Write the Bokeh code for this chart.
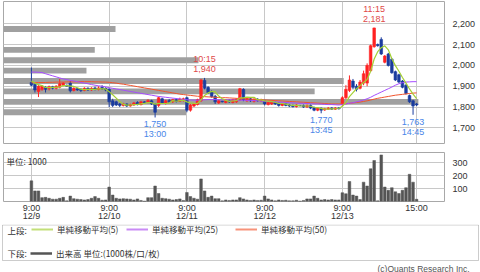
from bokeh.plotting import figure
from bokeh.models import (Range1d, FixedTicker, NumeralTickFormatter, Label, Legend,
                          LegendItem, ColumnDataSource, BoxAnnotation)
from bokeh.embed import file_html
from bokeh.resources import INLINE
from bokeh.core.properties import value

# ---------------- data ----------------
dates = ["12/9", "12/10", "12/11", "12/12", "12/13"]
times = ["9:00", "9:15", "9:30", "9:45", "10:00", "10:15", "10:30", "10:45", "11:00", "11:15",
         "11:30", "12:30", "12:45", "13:00", "13:15", "13:30", "13:45", "14:00", "14:15",
         "14:30", "14:45", "15:00"]

opens = [1918, 1910, 1875, 1885, 1895, 1888, 1898, 1890, 1895, 1905, 1905, 1915, 1880, 1888, 1885, 1880, 1890, 1882, 1892, 1884, 1895, 1890,
         1885, 1830, 1825, 1815, 1808, 1815, 1805, 1810, 1822, 1812, 1825, 1822, 1830, 1815, 1808, 1840, 1818, 1832, 1825, 1835, 1828, 1832,
         1845, 1785, 1805, 1812, 1830, 1928, 1895, 1872, 1852, 1820, 1828, 1822, 1832, 1822, 1825, 1835, 1885, 1830, 1840, 1828, 1838, 1830,
         1830, 1812, 1815, 1822, 1818, 1808, 1815, 1810, 1808, 1802, 1808, 1808, 1800, 1808, 1798, 1785, 1795, 1786, 1790, 1796, 1790, 1796,
         1812, 1845, 1880, 1925, 1900, 1890, 1915, 1915, 1975, 2090, 2100, 2125, 2015, 2055, 2030, 1970, 1955, 1925, 1905, 1855, 1830, 1815]
highs = [1990, 1915, 1905, 1905, 1900, 1903, 1902, 1905, 1935, 1920, 1908, 1925, 1895, 1892, 1890, 1895, 1895, 1895, 1898, 1900, 1905, 1895,
         1890, 1840, 1830, 1820, 1820, 1818, 1816, 1825, 1828, 1830, 1828, 1838, 1835, 1818, 1850, 1845, 1835, 1838, 1840, 1842, 1845, 1845,
         1850, 1815, 1820, 1840, 1935, 1940, 1900, 1880, 1858, 1835, 1830, 1838, 1836, 1840, 1842, 1892, 1890, 1846, 1845, 1842, 1842, 1840,
         1835, 1828, 1830, 1826, 1822, 1820, 1818, 1814, 1812, 1814, 1810, 1812, 1812, 1812, 1802, 1800, 1798, 1796, 1800, 1800, 1800, 1800,
         1852, 1905, 1952, 1935, 1910, 1930, 1975, 2010, 2100, 2181, 2105, 2135, 2050, 2060, 2035, 1975, 1960, 1930, 1910, 1860, 1835, 1820]
lows = [1900, 1870, 1848, 1878, 1870, 1880, 1885, 1885, 1890, 1900, 1898, 1870, 1875, 1878, 1872, 1876, 1878, 1878, 1880, 1880, 1882, 1876,
        1800, 1800, 1805, 1800, 1803, 1800, 1802, 1806, 1808, 1808, 1820, 1818, 1810, 1750, 1800, 1815, 1812, 1820, 1820, 1822, 1825, 1826,
        1775, 1778, 1800, 1808, 1825, 1885, 1862, 1845, 1815, 1815, 1822, 1818, 1820, 1818, 1820, 1830, 1828, 1825, 1825, 1822, 1826, 1826,
        1808, 1808, 1810, 1810, 1802, 1804, 1804, 1800, 1798, 1798, 1804, 1796, 1796, 1790, 1780, 1780, 1770, 1782, 1786, 1786, 1786, 1788,
        1805, 1838, 1872, 1885, 1875, 1885, 1905, 1900, 1970, 2085, 2090, 2050, 2010, 1995, 1960, 1925, 1915, 1890, 1860, 1820, 1763, 1805]
closes = [1905, 1882, 1900, 1900, 1885, 1898, 1890, 1900, 1912, 1915, 1900, 1878, 1890, 1882, 1880, 1890, 1882, 1890, 1885, 1892, 1888, 1882,
          1825, 1808, 1810, 1808, 1815, 1805, 1812, 1820, 1812, 1825, 1822, 1832, 1815, 1775, 1845, 1820, 1830, 1825, 1835, 1828, 1838, 1840,
          1785, 1810, 1815, 1835, 1930, 1890, 1870, 1850, 1825, 1830, 1825, 1832, 1825, 1835, 1838, 1888, 1835, 1842, 1830, 1838, 1830, 1836,
          1815, 1822, 1825, 1815, 1808, 1815, 1808, 1805, 1802, 1810, 1806, 1800, 1808, 1795, 1785, 1795, 1785, 1792, 1795, 1790, 1796, 1792,
          1845, 1885, 1930, 1895, 1885, 1920, 1960, 2000, 2095, 2180, 2095, 2055, 2045, 2000, 1965, 1930, 1920, 1895, 1865, 1825, 1805, 1810]

ma5 = [1925, 1915, 1908, 1903, 1894, 1893, 1895, 1895, 1897, 1903, 1903, 1901, 1899, 1893, 1886, 1884, 1885, 1885, 1885, 1888, 1887, 1887,
       1874, 1859, 1843, 1827, 1813, 1809, 1810, 1812, 1813, 1815, 1818, 1822, 1821, 1814, 1818, 1817, 1817, 1819, 1831, 1828, 1831, 1833,
       1825, 1820, 1818, 1817, 1835, 1856, 1868, 1875, 1873, 1853, 1840, 1832, 1827, 1829, 1831, 1844, 1844, 1848, 1847, 1847, 1835, 1835,
       1830, 1828, 1826, 1823, 1817, 1817, 1814, 1810, 1808, 1808, 1806, 1805, 1805, 1804, 1799, 1797, 1794, 1790, 1790, 1791, 1792, 1793,
       1804, 1822, 1850, 1869, 1888, 1903, 1918, 1932, 1972, 2031, 2066, 2085, 2094, 2075, 2032, 1999, 1972, 1942, 1915, 1887, 1862, 1840]
ma25 = [1968, 1968, 1967, 1966, 1960, 1955, 1950, 1945, 1940, 1935, 1932, 1928, 1925, 1922, 1918, 1915, 1912, 1908, 1905, 1902, 1900, 1897,
        1893, 1890, 1887, 1884, 1881, 1878, 1875, 1872, 1869, 1866, 1863, 1860, 1857, 1854, 1851, 1849, 1847, 1845, 1843, 1841, 1839, 1837,
        1835, 1834, 1833, 1833, 1834, 1835, 1836, 1836, 1836, 1835, 1835, 1834, 1834, 1834, 1833, 1833, 1833, 1832, 1832, 1831, 1830, 1829,
        1828, 1827, 1826, 1825, 1824, 1823, 1822, 1821, 1820, 1819, 1818, 1818, 1817, 1816, 1815, 1815, 1814, 1813, 1812, 1812, 1811, 1810,
        1812, 1815, 1818, 1821, 1825, 1829, 1834, 1840, 1847, 1856, 1864, 1872, 1880, 1888, 1896, 1905, 1912, 1917, 1920, 1921, 1922, 1922]
ma50 = [1917, 1917, 1918, 1918, 1918, 1919, 1919, 1920, 1920, 1920, 1921, 1921, 1921, 1921, 1922, 1922, 1922, 1922, 1921, 1921, 1920, 1920,
        1919, 1917, 1915, 1912, 1910, 1907, 1904, 1901, 1898, 1895, 1892, 1889, 1886, 1883, 1880, 1877, 1874, 1871, 1868, 1865, 1862, 1860,
        1858, 1856, 1854, 1852, 1851, 1850, 1849, 1848, 1847, 1846, 1845, 1845, 1844, 1843, 1842, 1841, 1840, 1839, 1838, 1837, 1836, 1835,
        1834, 1833, 1832, 1831, 1830, 1829, 1828, 1827, 1826, 1825, 1824, 1823, 1822, 1821, 1820, 1819, 1818, 1817, 1816, 1815, 1815, 1815,
        1815, 1816, 1818, 1820, 1822, 1824, 1827, 1830, 1834, 1838, 1842, 1845, 1848, 1851, 1854, 1857, 1859, 1861, 1863, 1865, 1867, 1868]

volumes = [160, 82, 82, 30, 32, 25, 18, 18, 25, 32, 5, 42, 22, 18, 15, 12, 15, 25, 38, 25, 10, 12,
           112, 50, 25, 20, 22, 20, 18, 12, 20, 8, 3, 30, 30, 120, 62, 25, 22, 18, 12, 15, 20, 8,
           70, 38, 25, 18, 175, 82, 32, 42, 22, 22, 5, 12, 8, 12, 12, 30, 20, 12, 8, 12, 8, 10,
           42, 20, 12, 5, 12, 8, 10, 5, 5, 10, 3, 8, 20, 20, 42, 25, 12, 15, 12, 15, 12, 12,
           68, 60, 155, 50, 42, 15, 150, 120, 254, 318, 5, 361, 112, 87, 107, 75, 62, 87, 107, 211, 150, 17]

# volume by price (relative, max = 100)
band_prices = [2175, 2075, 2025, 1975, 1925, 1875, 1825, 1775]
band_volume = [27, 22, 47, 20, 82, 75, 100, 44]

price_ticks = [1700, 1800, 1900, 2000, 2100, 2200]
volume_ticks = [100, 200, 300]

# marked highs / lows: (date, time, kind)
marks = [("12/11", "10:15", "high"), ("12/13", "11:15", "high"),
         ("12/10", "13:00", "low"), ("12/12", "13:45", "low"), ("12/13", "14:45", "low")]

legend_top = ["単純移動平均(5)", "単純移動平均(25)", "単純移動平均(50)"]
legend_bottom = "出来高 単位:(1000株/口/枚)"

# ---------------- styling ----------------
RED = "#ff2222"
BLUE = "#1a3c9e"
C5, C25, C50 = "#a4d034", "#a64dff", "#f2542d"
GRID = "#c8c8c8"
JP = "Noto Sans CJK JP"
NUM = "Liberation Sans"

n = len(closes)
per_day = len(times)
idx = list(range(n))
day_ticks = [d * per_day for d in range(len(dates))] + [n - 1]
tick_labels = {d * per_day: f"9:00\n{dates[d]}" for d in range(len(dates))}
tick_labels[n - 1] = "15:00"

xr = Range1d(-7.9, 116.9)

# ---------------- main price chart ----------------
p1 = figure(width=480, height=146, x_range=xr, y_range=Range1d(1625, 2307),
            output_backend="svg", toolbar_location=None, x_axis_location=None,
            y_axis_location="right", min_border_left=3, min_border_right=36,
            min_border_top=1, min_border_bottom=3)
p1.extra_x_ranges = {"vp": Range1d(0, 106.3)}
p1.outline_line_color = "#a8a8a8"
p1.xgrid.ticker = FixedTicker(ticks=day_ticks)
p1.xgrid.grid_line_color = GRID
p1.ygrid.grid_line_color = GRID
p1.yaxis.ticker = FixedTicker(ticks=price_ticks)
p1.yaxis.formatter = NumeralTickFormatter(format="0,0")
p1.yaxis.axis_line_color = None
p1.yaxis.major_tick_line_color = None
p1.yaxis.minor_tick_line_color = None
p1.yaxis.major_tick_out = 0
p1.yaxis.major_label_standoff = 8
p1.yaxis.major_label_text_font_size = "9px"
p1.yaxis.major_label_text_font = NUM
p1.yaxis.major_label_text_color = "#333333"

p1.hbar(y=band_prices, left=0, right=band_volume, height=28, x_range_name="vp",
        fill_color="#a0a0a0", line_color=None)

colors = [RED if c >= o else BLUE for o, c in zip(opens, closes)]
src = ColumnDataSource(dict(x=idx, o=opens, h=highs, l=lows, c=closes,
                            top=[max(o, c) for o, c in zip(opens, closes)],
                            bot=[min(o, c) for o, c in zip(opens, closes)],
                            color=colors))
p1.segment(x0="x", y0="l", x1="x", y1="h", line_color="color", line_width=1, source=src)
p1.vbar(x="x", bottom="bot", top="top", width=0.75, fill_color="color", line_color="color",
        line_width=0.6, source=src)

p1.line(idx, ma50, line_color=C50, line_width=1)
p1.line(idx, ma25, line_color=C25, line_width=1)
p1.line(idx, ma5, line_color=C5, line_width=1.2)

hx, hy, ht, lx, ly, lt = [], [], [], [], [], []
for d, t, kind in marks:
    i = dates.index(d) * per_day + times.index(t)
    if kind == "high":
        hx.append(i); hy.append(highs[i]); ht.append(f"{t}\n{highs[i]:,}")
    else:
        lx.append(i); ly.append(lows[i]); lt.append(f"{lows[i]:,}\n{t}")
p1.text(x=hx, y=hy, text=ht, text_align="center", text_baseline="bottom", y_offset=-4,
        text_font=value(NUM), text_font_size="9px", text_color="#e04848", text_line_height=1.0)
p1.text(x=lx, y=ly, text=lt, text_align="center", text_baseline="top", y_offset=2,
        text_font=value(NUM), text_font_size="9px", text_color="#4a86e8", text_line_height=1.0)

# ---------------- volume chart ----------------
p2 = figure(width=480, height=78, x_range=xr, y_range=Range1d(0, 380),
            output_backend="svg", toolbar_location=None, y_axis_location="right",
            min_border_left=3, min_border_right=36, min_border_top=6, min_border_bottom=21)
p2.outline_line_color = "#a8a8a8"
p2.xgrid.ticker = FixedTicker(ticks=day_ticks)
p2.xgrid.grid_line_color = GRID
p2.ygrid.grid_line_color = GRID
p2.yaxis.ticker = FixedTicker(ticks=volume_ticks)
p2.xaxis.ticker = FixedTicker(ticks=day_ticks)
p2.xaxis.major_label_overrides = tick_labels
for ax in (p2.xaxis, p2.yaxis):
    ax.axis_line_color = None
    ax.major_tick_line_color = None
    ax.minor_tick_line_color = None
    ax.major_tick_out = 0
    ax.major_tick_in = 0
    ax.minor_tick_out = 0
    ax.major_label_text_font_size = "9px"
    ax.major_label_text_font = NUM
    ax.major_label_text_color = "#333333"
p2.yaxis.major_label_standoff = 8
p2.xaxis.major_label_standoff = 1
p2.xaxis.major_label_text_line_height = 0.85

p2.vbar(x=idx, top=volumes, bottom=0, width=0.75, fill_color="#555555", line_color="#555555",
        line_width=0.5)
p2.add_layout(Label(x=3, y=380, x_units="screen", y_units="data", y_offset=-2,
                    text="単位: 1000", text_baseline="top", text_font=JP,
                    text_font_size="8.5px", text_color="#333333"))

# ---------------- legend box ----------------
p3 = figure(width=480, height=48, x_range=Range1d(0, 480), y_range=Range1d(0, 48),
            output_backend="svg", toolbar_location=None, x_axis_location=None,
            y_axis_location=None, min_border_left=0, min_border_right=0,
            min_border_top=0, min_border_bottom=0)
p3.outline_line_color = None
p3.xgrid.visible = False
p3.ygrid.visible = False
p3.add_layout(BoxAnnotation(left=2, right=478, bottom=12, top=47.5, fill_alpha=0,
                            line_color="#555555", line_width=1))
off = dict(x=[-20, -10], y=[-20, -20])
r5 = p3.line(line_color="#c2df78", line_width=2, **off)
r25 = p3.line(line_color="#c98bf5", line_width=2, **off)
r50 = p3.line(line_color="#f7937a", line_width=2, **off)
rv = p3.line(line_color="#555555", line_width=2.5, **off)

common = dict(orientation="horizontal", glyph_width=22, glyph_height=12, label_height=12,
              label_standoff=4, spacing=0, padding=0, margin=0, border_line_color=None,
              background_fill_alpha=0, label_text_font=JP, label_text_font_size="8.5px",
              label_text_color="#333333")
for lbl, r, x0 in zip(legend_top, [r5, r25, r50], [31, 126, 235]):
    p3.add_layout(Legend(items=[LegendItem(label=lbl, renderers=[r])], location=(x0, 37),
                         **common))
p3.add_layout(Legend(items=[LegendItem(label=legend_bottom, renderers=[rv])],
                     location=(30, 13), **common))
for txt, yy in (("上段:", 43), ("下段:", 19.3)):
    p3.add_layout(Label(x=7, y=yy, text=txt, text_baseline="middle", text_font=JP,
                        text_font_size="8.5px", text_color="#333333"))
p3.add_layout(Label(x=377, y=4, text="(c)Quants Research Inc.", text_baseline="middle",
                    text_font=NUM, text_font_size="8.5px", text_color="#555555"))

open("out.html", "w").write(file_html([p1, p2, p3], INLINE))
